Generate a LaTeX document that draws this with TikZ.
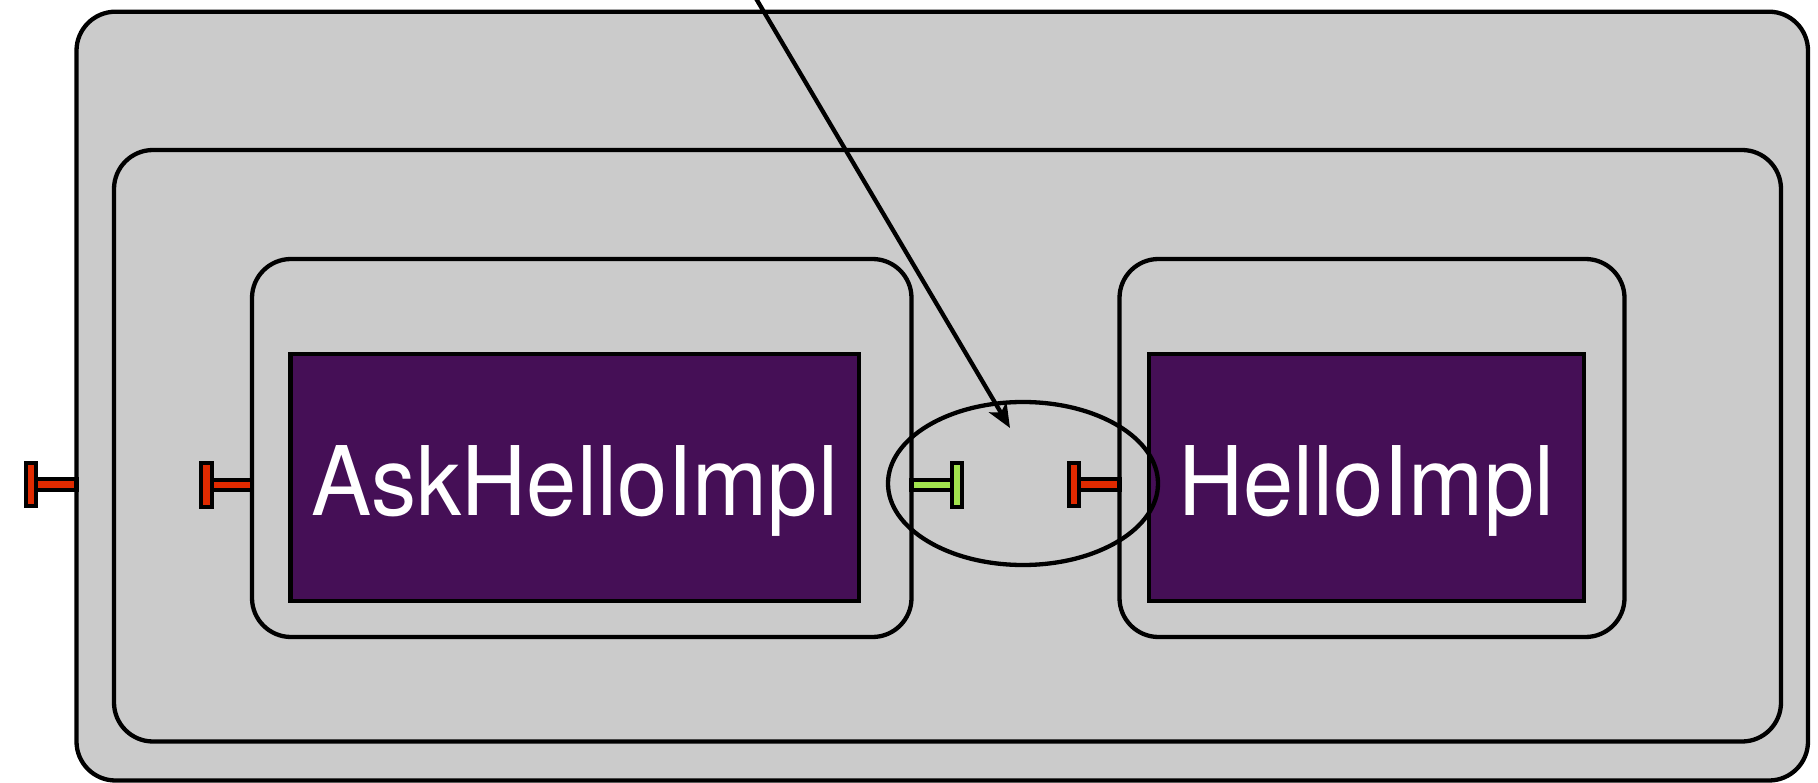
\documentclass[tikz,border=0pt]{standalone}
\usepackage{fontspec}
\newfontfamily\labelfont{TeX Gyre Heros}[FakeStretch=0.94]
\usetikzlibrary{arrows.meta,shapes.geometric}

\definecolor{boxgrey}{HTML}{CBCBCB}
\definecolor{compviolet}{HTML}{450F56}
\definecolor{portred}{HTML}{E02A00}
\definecolor{portgreen}{HTML}{A2E44E}

\tikzset{
  container/.style={draw=black, fill=boxgrey, line width=4.3pt, rounded corners=39pt,
    inner sep=0pt, outer sep=0pt},
  component/.style={draw=black, fill=compviolet, line width=4.3pt, inner sep=0pt, outer sep=0pt},
  complabel/.style={text=white, font=\labelfont\fontsize{96}{110}\selectfont,
    inner sep=0pt, anchor=base},
  binding/.style={ellipse, draw=black, line width=4.3pt, inner sep=0pt, outer sep=0pt},
  wire/.style={draw=black, line width=4.3pt, -{Stealth[length=24pt,width=20pt,inset=6pt]}},
  pics/porttee/.style={code={
    \draw[line width=4.3pt, fill=#1] (-40.25,-5.2) rectangle (0,5.2);
    \draw[line width=4.3pt, fill=#1] (-50.8,-21.8) rectangle (-40.2,21.8);
  }},
}

\begin{document}
\begin{tikzpicture}[x=1pt, y=-1pt]
  \useasboundingbox (0,0) rectangle (1818,783);

  % nested composites
  \node[container, minimum width=1731.5pt, minimum height=768.8pt] (outer) at (942.25,396.1) {};
  \node[container, minimum width=1667pt, minimum height=591.5pt] (inner) at (947.5,445.75) {};
  \node[container, minimum width=659.5pt, minimum height=378pt] (askbox) at (581.75,448) {};
  \node[container, minimum width=505pt, minimum height=378pt] (hellobox) at (1372,448) {};

  % primitive components
  \node[component, minimum width=568.5pt, minimum height=247pt] (askimpl) at (574.75,477.5) {};
  \node[component, minimum width=435pt, minimum height=247pt] (helloimpl) at (1366.5,477.5) {};
  \node[complabel] (asklabel) at (574.75,515) {AskHelloImpl};
  \node[complabel] (hellolabel) at (1366.5,515) {HelloImpl};

  % binding between the two interfaces
  \node[binding, minimum width=270pt, minimum height=163pt] (bind) at (1023,483.5) {};

  % interfaces
  \pic at (76.5,484.5) {porttee=portred};
  \pic at (252,485) {porttee=portred};
  \pic[xscale=-1] at (911.5,485) {porttee=portgreen};
  \pic at (1119.5,484.5) {porttee=portred};

  % incoming wire
  \coordinate (wirestart) at (751,-10);
  \coordinate (bindtip) at (1010,428);
  \draw[wire] (wirestart) -- (bindtip);
\end{tikzpicture}
\end{document}
